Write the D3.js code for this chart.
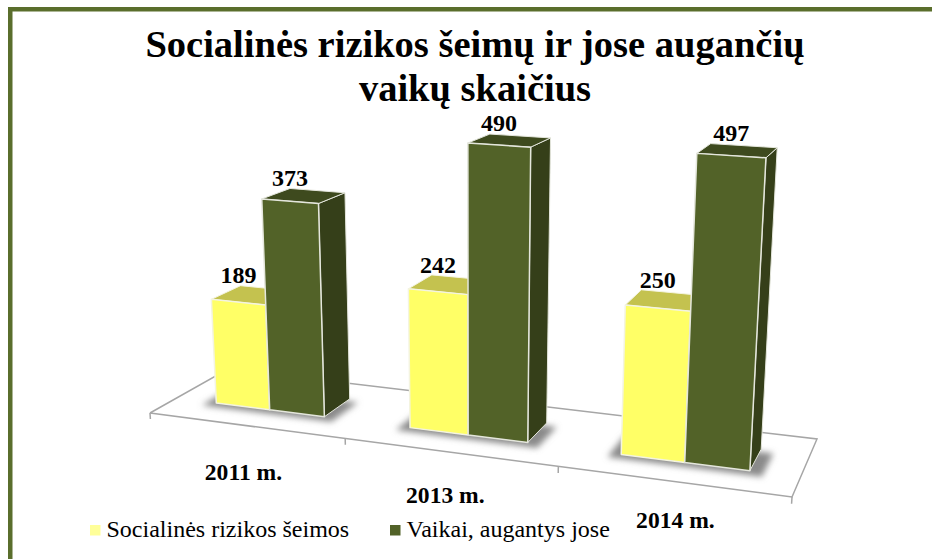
<!DOCTYPE html>
<html>
<head>
<meta charset="utf-8">
<script src="https://cdn.jsdelivr.net/npm/d3@7"></script>
<style>
html, body { margin: 0; padding: 0; background: #fff; }
svg { display: block; }
text { font-family: "Liberation Serif", serif; fill: #000; }
</style>
</head>
<body>
<div id="chart"></div>
<script>
const categories = ["2011 m.", "2013 m.", "2014 m."];
const seriesNames = ["Socialinės rizikos šeimos", "Vaikai, augantys jose"];
const families = [189, 242, 250];
const children = [373, 490, 497];
const titleLines = ["Socialinės rizikos šeimų ir jose augančių", "vaikų skaičius"];

const width = 932, height = 559;

// colours per series: front, top, side
const faces = [
    { front: "#ffff66", top: "#c4c24f", side: "#8f8f3c", swatch: "#ffff99", edge: "#f4f4e0" },
    { front: "#526228", top: "#3e4a1e", side: "#353f19", swatch: "#526228", edge: "#e4e6dc" }
];

// the category labels do not follow the floor edge exactly
const catLabelNudge = [[-2, 55], [-4, 51], [3, 47]];

const svg = d3.select("#chart").append("svg")
    .attr("width", width)
    .attr("height", height);

const defs = svg.append("defs");
defs.append("filter").attr("id", "soft")
    .attr("x", "-20%").attr("y", "-40%").attr("width", "140%").attr("height", "180%")
    .append("feGaussianBlur").attr("stdDeviation", 3);

// slide frame
svg.append("rect").attr("x", 8).attr("y", 7).attr("width", width - 8).attr("height", 4.5).attr("fill", "#5a6e2c");
svg.append("rect").attr("x", 8).attr("y", 7).attr("width", 4.5).attr("height", height - 7).attr("fill", "#5a6e2c");

// camera of the 3d chart: floor corners in the picture and where the uprights converge
const floor = { fl: [150, 413], fr: [792, 497], br: [817, 439], bl: [228, 369] };
const nadir = [474, 5850];

function floorMatrix(c) {
    const [x0, y0] = c.fl, [x1, y1] = c.fr, [x2, y2] = c.br, [x3, y3] = c.bl;
    const dx1 = x1 - x2, dx2 = x3 - x2, sx = x0 - x1 + x2 - x3;
    const dy1 = y1 - y2, dy2 = y3 - y2, sy = y0 - y1 + y2 - y3;
    const den = dx1 * dy2 - dx2 * dy1;
    const g = (sx * dy2 - dx2 * sy) / den;
    const h = (dx1 * sy - sx * dy1) / den;
    return {
        a: x1 - x0 + g * x1, b: x3 - x0 + h * x3, c: x0,
        d: y1 - y0 + g * y1, e: y3 - y0 + h * y3, f: y0,
        g: g, h: h
    };
}
const m = floorMatrix(floor);

// u along the categories, w into the depth, v the value
const lift = d3.scaleLinear().domain([0, 500]).range([0, -0.0505]);
function project(u, w, v) {
    const t = lift(v || 0);
    const W = m.g * u + m.h * w + 1 + t;
    return [
        (m.a * u + m.b * w + m.c + t * nadir[0]) / W,
        (m.d * u + m.e * w + m.f + t * nadir[1]) / W
    ];
}

const xCat = d3.scaleBand().domain(categories).range([0, 1]);
const xSeries = d3.scaleBand().domain([0, 1]).range([0, xCat.bandwidth()]).paddingInner(0).paddingOuter(0.76);
const depth = { front: 0.32, back: 0.7 };

const poly = pts => d3.line()(pts) + "Z";

// floor outline, back part goes under the bars
const floorG = svg.append("g").attr("fill", "none").attr("stroke", "#a6a6a6").attr("stroke-width", 1.5);
floorG.append("path").attr("d", d3.line()([project(0, 0), project(0, 1), project(1, 1), project(1, 0), project(0, 0)]));
floorG.selectAll(".tick").data(d3.range(categories.length + 1)).join("path")
    .attr("class", "tick")
    .attr("d", i => d3.line()([project(i / categories.length, 0), project(i / categories.length, 0, -11)]));

// shadows
svg.append("g").selectAll("path").data(categories).join("path")
    .attr("d", c => {
        const u0 = xCat(c) + xSeries(0) - 0.016, u1 = xCat(c) + xSeries(1) + xSeries.bandwidth() + 0.02;
        const w0 = depth.front - 0.07, w1 = depth.back - 0.05;
        return poly([project(u0, w0), project(u1, w0), project(u1, w1), project(u0, w1)]);
    })
    .attr("fill", "#8a8a8a")
    .attr("filter", "url(#soft)");

// bars
[families, children].forEach((values, s) => {
    const g = svg.append("g").attr("class", "series" + s);
    categories.forEach((c, i) => {
        const u0 = xCat(c) + xSeries(s), u1 = u0 + xSeries.bandwidth();
        const v = values[i];
        const fb = project(u0, depth.front), fbr = project(u1, depth.front);
        const ft = project(u0, depth.front, v), ftr = project(u1, depth.front, v);
        const bt = project(u0, depth.back, v), btr = project(u1, depth.back, v);
        const bbr = project(u1, depth.back);
        g.append("path").attr("d", poly([ftr, btr, bbr, fbr])).attr("fill", faces[s].side)
            .attr("stroke", faces[s].edge).attr("stroke-width", 1).attr("stroke-linejoin", "round");
        g.append("path").attr("d", poly([ft, ftr, btr, bt])).attr("fill", faces[s].top)
            .attr("stroke", faces[s].edge).attr("stroke-width", 1).attr("stroke-linejoin", "round");
        g.append("path").attr("d", poly([fb, fbr, ftr, ft])).attr("fill", faces[s].front)
            .attr("stroke", faces[s].edge).attr("stroke-width", 1.5).attr("stroke-linejoin", "round");
    });
});

// value labels: centred on the front face, sitting above the back edge of the top
[families, children].forEach((values, s) => {
    svg.append("g").selectAll("text").data(categories).join("text")
        .attr("x", (c, i) => project(xCat(c) + xSeries(s) + xSeries.bandwidth() / 2, depth.front, values[i])[0])
        .attr("y", (c, i) => project(xCat(c) + xSeries(s) + xSeries.bandwidth() / 2, depth.back, values[i])[1] - 5)
        .attr("text-anchor", "middle")
        .attr("font-size", 24)
        .attr("font-weight", "bold")
        .text((c, i) => values[i]);
});

// category labels
svg.append("g").selectAll("text").data(categories).join("text")
    .attr("x", (c, i) => project(xCat(c) + xCat.bandwidth() / 2, 0)[0] + catLabelNudge[i][0])
    .attr("y", (c, i) => project(xCat(c) + xCat.bandwidth() / 2, 0)[1] + catLabelNudge[i][1])
    .attr("text-anchor", "middle")
    .attr("font-size", 23.6)
    .attr("font-weight", "bold")
    .text(c => c);

// title
svg.append("g").selectAll("text").data(titleLines).join("text")
    .attr("x", 475)
    .attr("y", (d, i) => 57 + i * 44)
    .attr("text-anchor", "middle")
    .attr("font-size", 38.5)
    .attr("font-weight", "bold")
    .text(d => d);

// legend
const legend = svg.append("g").selectAll("g").data(seriesNames).join("g")
    .attr("transform", (d, i) => `translate(${i === 0 ? 90 : 390},525)`);
legend.append("rect").attr("width", 10.5).attr("height", 10.5).attr("fill", (d, i) => faces[i].swatch);
legend.append("text").attr("x", 16.5).attr("y", 12).attr("font-size", 24).text(d => d);
</script>
</body>
</html>
